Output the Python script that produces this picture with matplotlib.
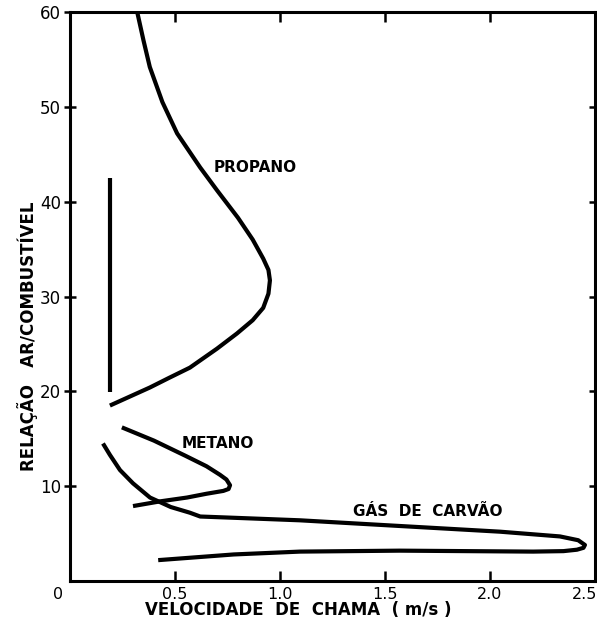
import matplotlib
matplotlib.use("Agg")
import matplotlib.pyplot as plt
import matplotlib.transforms as mtransforms

# Propano
propano_x = [0.32, 0.35, 0.38, 0.44, 0.51, 0.62, 0.70, 0.80, 0.87, 0.92, 0.945, 0.952, 0.945, 0.92, 0.87, 0.795, 0.70, 0.571, 0.47, 0.38, 0.28, 0.19]
propano_y = [60.0, 57.0, 54.2, 50.5, 47.2, 43.6, 41.2, 38.3, 36.0, 34.0, 32.8, 31.7, 30.3, 28.8, 27.5, 26.1, 24.5, 22.5, 21.4, 20.4, 19.4, 18.5]

# Unlabeled vertical line
vert_x = [0.19, 0.19]
vert_y = [42.5, 19.9]

# Metano
metano_x = [0.247, 0.40, 0.55, 0.65, 0.714, 0.745, 0.762, 0.755, 0.73, 0.65, 0.557, 0.43, 0.30]
metano_y = [16.2, 14.8, 13.2, 12.1, 11.2, 10.7, 10.1, 9.7, 9.5, 9.2, 8.8, 8.4, 7.9]

# Gas de carvao
gas_x = [0.157, 0.19, 0.238, 0.30, 0.381, 0.48, 0.571, 0.62, 0.80, 1.095, 1.571, 2.048, 2.333, 2.42, 2.452, 2.445, 2.414, 2.35, 2.205, 1.57, 1.095, 0.78, 0.60, 0.42]
gas_y = [14.5, 13.3, 11.7, 10.3, 8.8, 7.8, 7.2, 6.8, 6.65, 6.4, 5.8, 5.2, 4.7, 4.3, 3.8, 3.5, 3.3, 3.15, 3.1, 3.2, 3.1, 2.8, 2.5, 2.2]

xticks = [0, 0.5, 1.0, 1.5, 2.0, 2.5]
xtick_labels = ["0", "0.5", "1.0", "1.5", "2.0", "2.5"]
yticks = [10, 20, 30, 40, 50, 60]
ytick_labels = ["10", "20", "30", "40", "50", "60"]

fig = plt.figure(figsize=(5.97, 6.25), dpi=100)
ax = fig.add_axes([70/597, 44/625, 525/597, 569/625])

lw = 3.0
for xs, ys in [(propano_x, propano_y), (vert_x, vert_y), (metano_x, metano_y), (gas_x, gas_y)]:
    ax.plot(xs, ys, color="black", lw=lw, solid_capstyle="butt", solid_joinstyle="round")

ax.set_xlim(0, 2.5)
ax.set_ylim(0, 60)
ax.set_xticks(xticks)
ax.set_xticklabels(xtick_labels)
ax.set_yticks(yticks)
ax.set_yticklabels(ytick_labels)

for s in ax.spines.values():
    s.set_linewidth(2.2)

ax.tick_params(axis="x", direction="in", length=7, width=1.8, top=True, labelsize=11.5, pad=4)
ax.tick_params(axis="y", direction="inout", length=9, width=1.8, right=True, labelsize=12, pad=2)

# shift the "0" x tick label left, right-align the last one
labels = ax.get_xticklabels()
offset = mtransforms.ScaledTranslation(-12/100, 0, fig.dpi_scale_trans)
labels[0].set_transform(labels[0].get_transform() + offset)
labels[-1].set_horizontalalignment("right")
offset2 = mtransforms.ScaledTranslation(2/100, 0, fig.dpi_scale_trans)
labels[-1].set_transform(labels[-1].get_transform() + offset2)

font_kw = dict(fontsize=11, fontweight="bold", family="DejaVu Sans")
ax.text(0.881, 43.6, "PROPANO", ha="center", va="center", **font_kw)
ax.text(0.705, 14.5, "METANO", ha="center", va="center", **font_kw)
ax.text(1.705, 7.3, "GÁS  DE  CARVÃO", ha="center", va="center", **font_kw)

fig.text(298/597, 1 - 610/625, "VELOCIDADE  DE  CHAMA  ( m/s )", ha="center", va="center",
         fontsize=12, fontweight="bold", family="DejaVu Sans")
fig.text(28/597, 1 - 336/625, "RELAÇÃO   AR/COMBUSTÍVEL", ha="center", va="center", rotation=90,
         fontsize=12, fontweight="bold", family="DejaVu Sans")

fig.savefig("out.png", dpi=100)
